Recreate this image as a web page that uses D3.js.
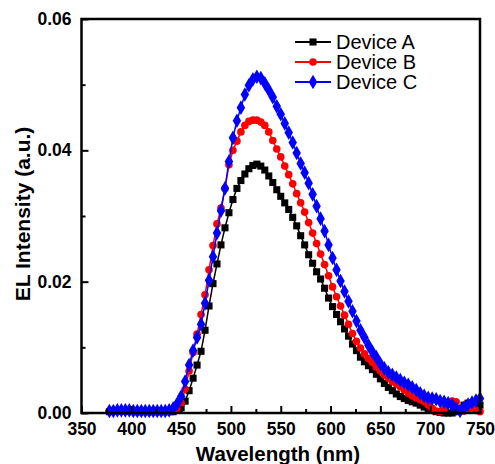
<!DOCTYPE html>
<html><head><meta charset="utf-8">
<script src="https://cdn.jsdelivr.net/npm/d3@7/dist/d3.min.js"></script>
<style>body{margin:0;background:#fff}svg{display:block}text{font-family:"Liberation Sans",Arial,sans-serif}</style>
</head><body>
<svg id="c" width="495" height="464"></svg>
<script>
const wavelength = d3.range(378, 751, 4);
const deviceA = [0.0002,0.0003,0.0003,0.0003,0.0003,0.0003,0.0002,0.0002,0.0002,0.0002,0.0002,0.0002,0.0002,0.0002,0.0002,0.0002,
0.0002,0.0004,0.0008,0.0018,0.0034,0.0053,0.0073,0.0094,0.0126,0.0163,
0.0197,0.0227,0.0256,0.0282,0.0305,0.0325,0.0342,0.0354,0.0364,0.0372,
0.0377,0.0379,0.0376,0.0370,0.0361,0.0351,0.0340,0.0330,0.0320,0.0310,
0.0298,0.0285,0.0270,0.0256,0.0241,0.0228,0.0215,0.0204,0.0190,0.0175,
0.0162,0.0150,0.0139,0.0128,0.0117,0.0105,0.0095,0.0085,0.0078,0.0072,
0.0066,0.0059,0.0052,0.0045,0.0039,0.0034,0.0029,0.0025,0.0022,0.0019,
0.0017,0.0015,0.0012,0.0009,0.0006,0.0004,0.0002,0.0001,0.0000,0.0000,
0.0000,0.0002,0.0004,0.0012,0.0015,0.0015,0.0013,0.0012];
const deviceB = [0.0003,0.0004,0.0003,0.0003,0.0003,0.0004,0.0003,0.0003,0.0003,0.0003,0.0003,0.0003,0.0003,0.0003,0.0003,0.0003,
0.0004,0.0007,0.0015,0.0036,0.0064,0.0092,0.0120,0.0150,0.0180,0.0218,
0.0255,0.0288,0.0312,0.0342,0.0378,0.0400,0.0414,0.0428,0.0438,0.0444,
0.0446,0.0446,0.0443,0.0438,0.0428,0.0415,0.0402,0.0390,0.0376,0.0363,
0.0349,0.0334,0.0320,0.0306,0.0290,0.0274,0.0258,0.0242,0.0226,0.0209,
0.0192,0.0177,0.0163,0.0149,0.0135,0.0121,0.0109,0.0099,0.0090,0.0083,
0.0077,0.0070,0.0064,0.0058,0.0053,0.0048,0.0044,0.0040,0.0035,0.0030,
0.0026,0.0023,0.0020,0.0017,0.0012,0.0007,0.0003,0.0002,0.0006,0.0013,
0.0018,0.0017,0.0007,0.0003,0.0005,0.0008,0.0004,0.0002];
const deviceC = [0.0003,0.0003,0.0004,0.0004,0.0004,0.0004,0.0003,0.0003,0.0003,0.0003,0.0003,0.0003,0.0003,0.0003,0.0003,0.0004,
0.0007,0.0014,0.0025,0.0048,0.0073,0.0095,0.0115,0.0135,0.0167,0.0202,
0.0238,0.0274,0.0308,0.0342,0.0383,0.0419,0.0445,0.0465,0.0485,0.0499,
0.0508,0.0512,0.0510,0.0502,0.0492,0.0481,0.0467,0.0455,0.0441,0.0427,
0.0412,0.0396,0.0380,0.0366,0.0350,0.0333,0.0315,0.0296,0.0277,0.0256,
0.0236,0.0218,0.0201,0.0185,0.0170,0.0155,0.0140,0.0126,0.0115,0.0103,
0.0093,0.0085,0.0075,0.0068,0.0062,0.0058,0.0054,0.0050,0.0046,0.0043,
0.0039,0.0035,0.0030,0.0026,0.0023,0.0022,0.0021,0.0018,0.0017,0.0015,
0.0012,0.0007,0.0003,0.0008,0.0013,0.0016,0.0019,0.0022];
const seriesNames = ["Device A","Device B","Device C"];
const seriesColors = ["#000000","#ff0000","#0000ff"];
const xTicks = [350,400,450,500,550,600,650,700,750];
const yTicks = [0,0.02,0.04,0.06];

const svg = d3.select("#c");
const L=81.5,R=480,T=19,B=413;
const x = d3.scaleLinear().domain([350,750]).range([L,R]);
const y = d3.scaleLinear().domain([0,0.06]).range([B,T]);

const series = [deviceA,deviceB,deviceC];
const shapes = [d3.symbolSquare, d3.symbolCircle, d3.symbolDiamond];
const sizes = [50, 46, 62];
const plot = svg.append("g");
series.forEach((vals,i)=>{
  const pts = wavelength.map((w,j)=>[w,vals[j]]);
  plot.append("path").datum(pts)
    .attr("fill","none").attr("stroke",seriesColors[i]).attr("stroke-width",1.5)
    .attr("d", d3.line().x(d=>x(d[0])).y(d=>y(d[1])));
  plot.selectAll(null).data(pts).enter().append("path")
    .attr("transform", d=>`translate(${x(d[0])},${y(d[1])})`)
    .attr("d", d3.symbol().type(shapes[i]).size(sizes[i]))
    .attr("fill",seriesColors[i]);
});

// axes (ticks inward)
const xAxis = svg.append("g").attr("transform",`translate(0,${B})`)
  .call(d3.axisBottom(x).tickValues(xTicks).tickSize(-7).tickFormat(d3.format("d")));
const xMinor = svg.append("g").attr("transform",`translate(0,${B})`)
  .call(d3.axisBottom(x).tickValues(d3.range(375,750,50)).tickSize(-4).tickFormat(""));
const yAxis = svg.append("g").attr("transform",`translate(${L},0)`)
  .call(d3.axisLeft(y).tickValues(yTicks).tickSize(-7).tickPadding(10).tickFormat(d3.format(".2f")));
const yMinor = svg.append("g").attr("transform",`translate(${L},0)`)
  .call(d3.axisLeft(y).tickValues([0.01,0.03,0.05]).tickSize(-4).tickFormat(""));
[xAxis,xMinor,yAxis,yMinor].forEach(g=>{
  g.select(".domain").remove();
  g.selectAll(".tick line").attr("stroke","#000").attr("stroke-width",2);
  g.selectAll("text").attr("font-size",17.5).attr("font-weight","bold").attr("fill","#000")
   .attr("font-family","'Liberation Sans',Arial,sans-serif");
});
xAxis.selectAll("text").attr("y",10).attr("dy","0.71em");
// frame
svg.append("rect").attr("x",L).attr("y",T).attr("width",R-L).attr("height",B-T)
  .attr("fill","none").attr("stroke","#000").attr("stroke-width",2.5);

// titles
svg.append("text").attr("x",278).attr("y",461).attr("text-anchor","middle")
  .attr("font-size",20.5).attr("font-weight","bold").text("Wavelength (nm)");
svg.append("text").attr("transform","translate(30,214) rotate(-90)").attr("text-anchor","middle")
  .attr("font-size",21).attr("font-weight","bold").text("EL Intensity (a.u.)");

// legend
const leg = svg.append("g");
seriesNames.forEach((n,i)=>{
  const ly = 42 + i*20;
  leg.append("line").attr("x1",295).attr("x2",331).attr("y1",ly).attr("y2",ly)
    .attr("stroke",seriesColors[i]).attr("stroke-width",1.8);
  leg.append("path").attr("transform",`translate(313,${ly})`)
    .attr("d", d3.symbol().type(shapes[i]).size(sizes[i])).attr("fill",seriesColors[i]);
  leg.append("text").attr("x",336).attr("y",ly+7).attr("font-size",20).text(n);
});
</script>
</body></html>
